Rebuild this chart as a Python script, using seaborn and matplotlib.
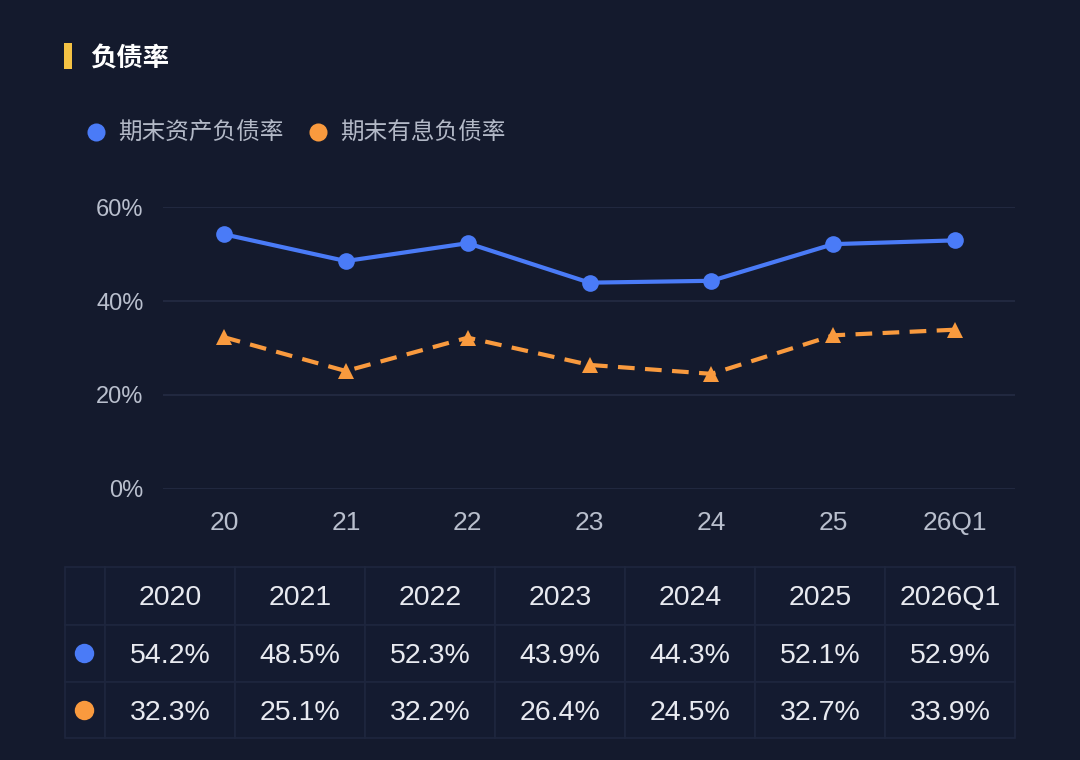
import matplotlib
matplotlib.use("Agg")
import matplotlib.pyplot as plt
import seaborn as sns
import pandas as pd
from matplotlib.lines import Line2D
from matplotlib.patches import Rectangle

# ---- data ----
x_labels = ["20", "21", "22", "23", "24", "25", "26Q1"]
periods = ["2020", "2021", "2022", "2023", "2024", "2025", "2026Q1"]
asset_ratio = [54.2, 48.5, 52.3, 43.9, 44.3, 52.1, 52.9]
interest_ratio = [32.3, 25.1, 32.2, 26.4, 24.5, 32.7, 33.9]
series_names = ["期末资产负债率", "期末有息负债率"]
y_ticks = [0, 20, 40, 60]
title = "负债率"

BG = "#141a2d"
BLUE = "#4a7bf7"
ORANGE = "#f99a3e"
GRID = "#242b43"
TICK = "#b9bfcd"
TXT = "#e8eaf0"
NUMFONT = ["Liberation Sans", "DejaVu Sans"]

sns.set_theme(style="dark")
plt.rcParams["font.family"] = ["Noto Sans CJK SC", "DejaVu Sans"]

W, H = 1080, 760
fig = plt.figure(figsize=(W / 100, H / 100), dpi=100, facecolor=BG)

def fx(px):
    return px / W

def fy(py):
    return 1 - py / H

ax = fig.add_axes([fx(163), fy(489), fx(1015) - fx(163), fy(207) - fy(489)])
ax.set_facecolor(BG)

df = pd.DataFrame({"x": list(range(len(x_labels))), "a": asset_ratio, "b": interest_ratio})
sns.lineplot(data=df, x="x", y="a", ax=ax, color=BLUE, linewidth=3, marker="o",
             markersize=12, markeredgewidth=0, clip_on=False, zorder=4)
sns.lineplot(data=df, x="x", y="b", ax=ax, color=ORANGE, linewidth=3, marker="^",
             markersize=12, markeredgewidth=0, linestyle=(0, (4, 2.5)), clip_on=False, zorder=4)

ax.set_xlim(-0.5, 6.49)
ax.set_ylim(0, 60)
ax.set_yticks(y_ticks)
ax.set_yticklabels([f"{v}%" for v in y_ticks], family=NUMFONT)
ax.set_xticks(range(len(x_labels)))
ax.set_xticklabels(x_labels, family=NUMFONT)
ax.set_xlabel("")
ax.set_ylabel("")
ax.grid(False)
for v in y_ticks:
    ax.axhline(v, color=GRID, linewidth=1.2, zorder=1)
for s in ax.spines.values():
    s.set_visible(False)
ax.tick_params(axis="y", colors=TICK, labelsize=17, length=0, pad=14)
ax.tick_params(axis="x", colors=TICK, labelsize=19, length=0, pad=16)

# ---- title ----
fig.add_artist(Rectangle((fx(64), fy(69)), fx(72) - fx(64), fy(43) - fy(69),
                         transform=fig.transFigure, color="#f4c244", lw=0))
fig.text(fx(90), fy(59), title, color="white", fontsize=19, va="center", ha="left",
         fontweight="bold")

# ---- legend ----
leg_items = [(96, series_names[0], BLUE), (318, series_names[1], ORANGE)]
for px, name, col in leg_items:
    fig.add_artist(Line2D([fx(px)], [fy(132)], marker="o", markersize=13, color=col,
                          markeredgewidth=0, transform=fig.transFigure))
    fig.text(fx(px + 22), fy(133), name, color="#b3b9c7", fontsize=17, va="center", ha="left")

# ---- table ----
tx0, tx1 = 65, 1015
col0w = 40
colw = (tx1 - tx0 - col0w) / len(periods)
rows_y = [567, 625, 682, 738]
LINE = "#1e263e"
CELL = "#141b30"
for r in range(3):
    y0, y1 = rows_y[r], rows_y[r + 1]
    xs = [tx0, tx0 + col0w] + [tx0 + col0w + colw * (i + 1) for i in range(len(periods))]
    for c in range(len(xs) - 1):
        fig.add_artist(Rectangle((fx(xs[c]), fy(y1)), fx(xs[c + 1]) - fx(xs[c]), fy(y0) - fy(y1),
                                 transform=fig.transFigure, facecolor=CELL, edgecolor=LINE, lw=1.2))

for i, p in enumerate(periods):
    cx = tx0 + col0w + colw * (i + 0.5)
    fig.text(fx(cx), fy(598), p, color=TXT, fontsize=20.5, ha="center", va="center", family=NUMFONT)
    fig.text(fx(cx), fy(656), f"{asset_ratio[i]:.1f}%", color=TXT, fontsize=20.5,
             ha="center", va="center", family=NUMFONT)
    fig.text(fx(cx), fy(713), f"{interest_ratio[i]:.1f}%", color=TXT, fontsize=20.5,
             ha="center", va="center", family=NUMFONT)

for py, col in [(653, BLUE), (710, ORANGE)]:
    fig.add_artist(Line2D([fx(84)], [fy(py)], marker="o", markersize=14, color=col,
                          markeredgewidth=0, transform=fig.transFigure))

fig.savefig("out.png", dpi=100, facecolor=BG)
